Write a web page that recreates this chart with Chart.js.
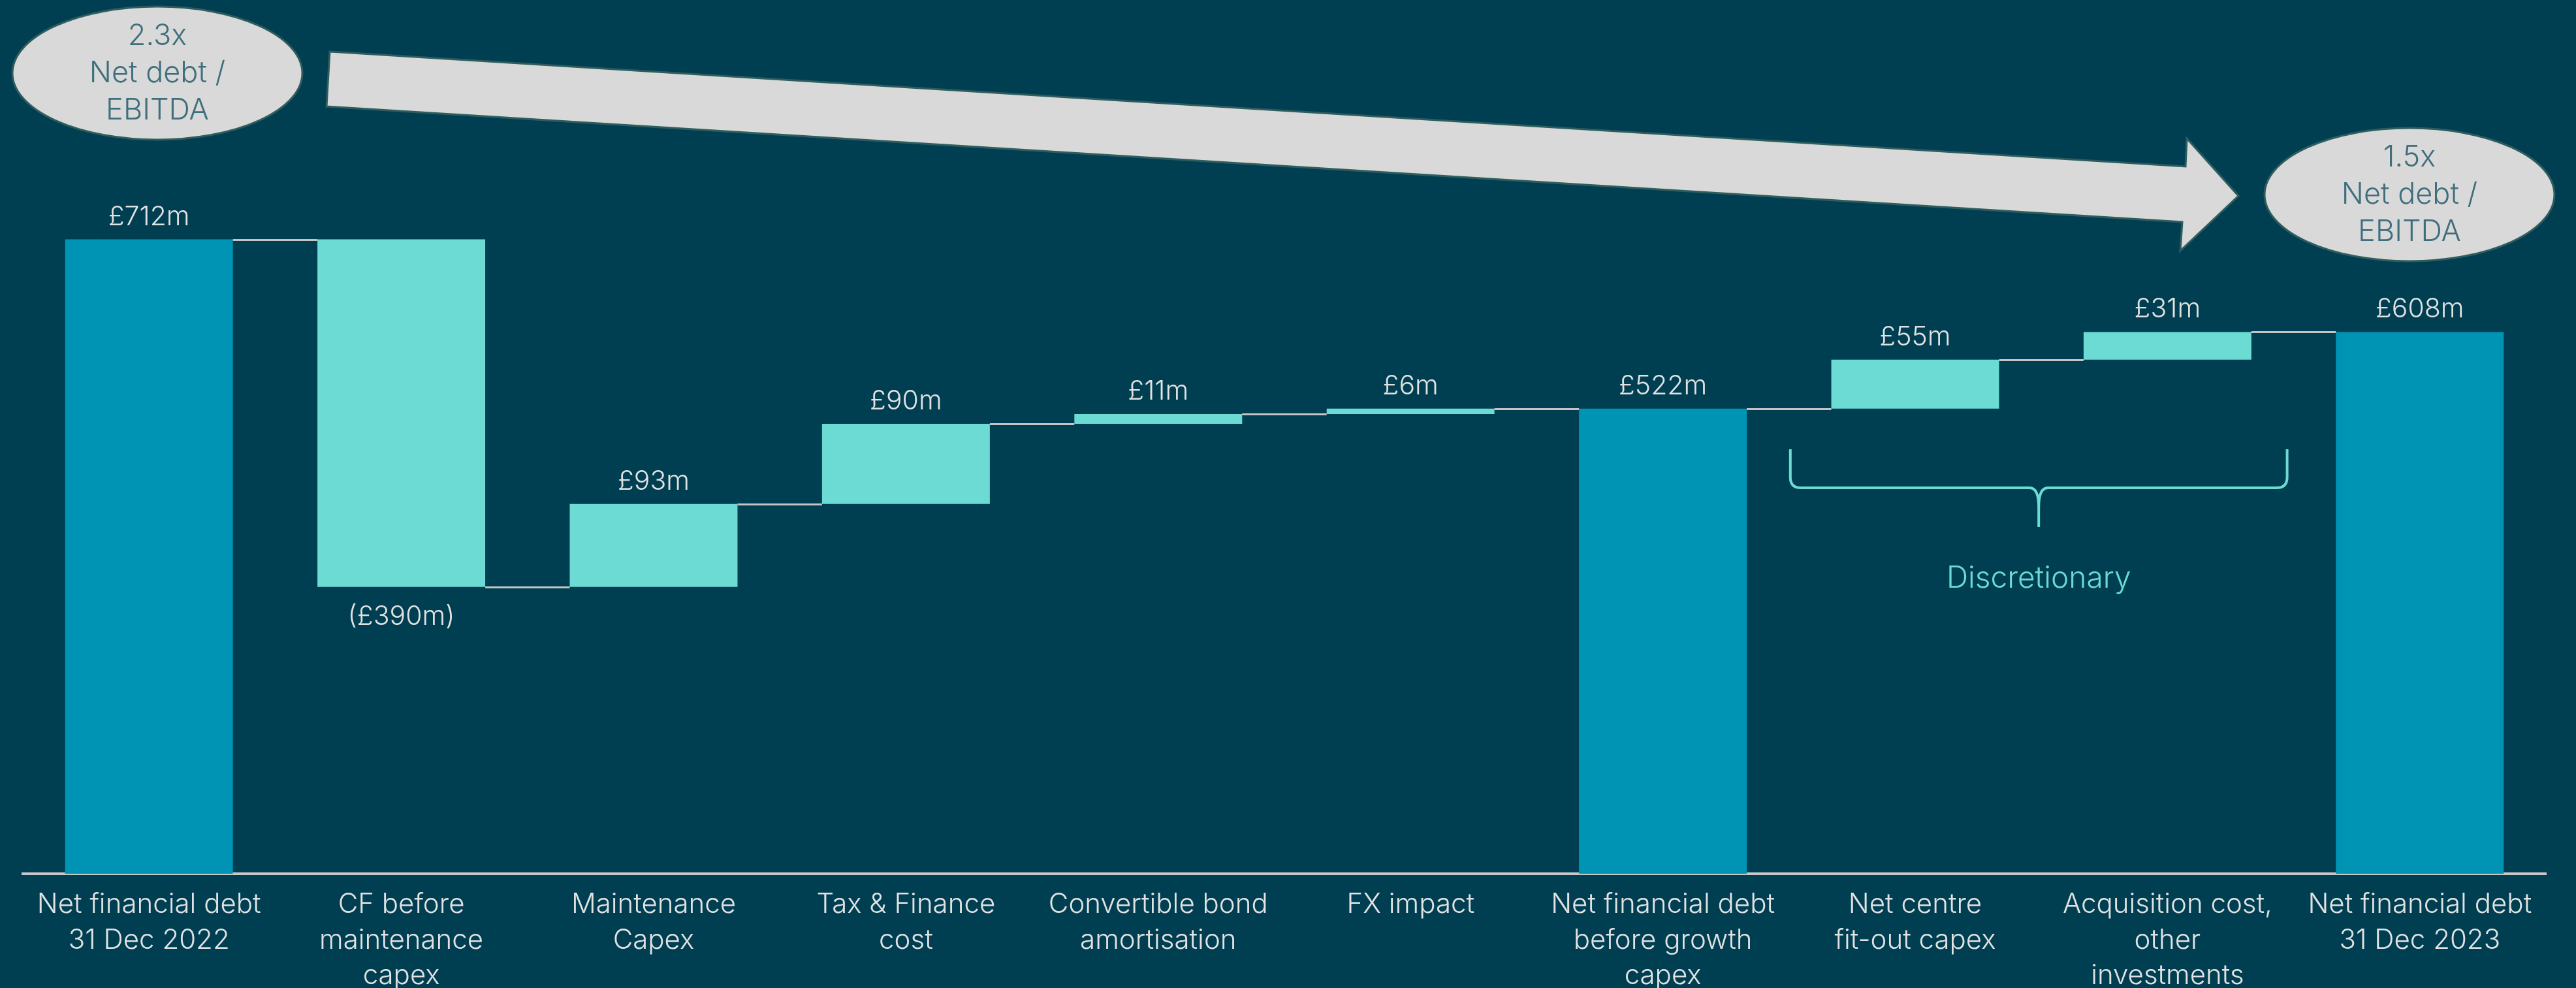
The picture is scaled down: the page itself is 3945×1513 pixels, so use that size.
<!DOCTYPE html>
<html>
<head>
<meta charset="utf-8">
<script src="https://cdn.jsdelivr.net/npm/chart.js@4.4.1/dist/chart.umd.min.js"></script>
<style>
  html, body { margin: 0; padding: 0; background: #003f52; }
  #wrap { width: 3945px; height: 1513px; position: relative; }
</style>
</head>
<body>
<div id="wrap"><canvas id="bridgeChart"></canvas></div>
<script>
// Net financial debt bridge, 2022 -> 2023 (£m)
const categories = [
    ['Net financial debt', '31 Dec 2022'],
    ['CF before', 'maintenance', 'capex'],
    ['Maintenance', 'Capex'],
    ['Tax & Finance', 'cost'],
    ['Convertible bond', 'amortisation'],
    ['FX impact'],
    ['Net financial debt', 'before growth', 'capex'],
    ['Net centre', 'fit-out capex'],
    ['Acquisition cost,', 'other', 'investments'],
    ['Net financial debt', '31 Dec 2023']
];
const movements = [712, -390, 93, 90, 11, 6, 522, 55, 31, 608];
const isTotal = [true, false, false, false, false, false, true, false, false, true];
const valueLabels = ['£712m', '(£390m)', '£93m', '£90m', '£11m', '£6m', '£522m', '£55m', '£31m', '£608m'];

const startRatio = ['2.3x', 'Net debt /', 'EBITDA'];
const endRatio = ['1.5x', 'Net debt /', 'EBITDA'];
const bracketText = 'Discretionary';

const TOTAL_COLOR = '#0094b4';
const STEP_COLOR = '#6bdbd4';
const TEXT_COLOR = '#e2e2e2';
const FONT = 'Inter, "Open Sans", sans-serif';

// Floating bars: totals start from zero, movements start from the running total
let running = 0;
const ranges = movements.map((v, i) => {
    if (isTotal[i]) {
        running = v;
        return [0, v];
    }
    const start = running;
    running += v;
    return [start, running];
});

// Value labels and the thin connectors between bars
const bridgePlugin = {
    id: 'bridge',
    afterDatasetsDraw(chart) {
        const ctx = chart.ctx;
        const bars = chart.getDatasetMeta(0).data;
        const y = chart.scales.y;

        ctx.save();
        ctx.strokeStyle = '#c4c4c4';
        ctx.lineWidth = 3;
        for (let i = 0; i < bars.length - 1; i++) {
            const level = Math.round(y.getPixelForValue(ranges[i][1])) + 0.5;
            ctx.beginPath();
            ctx.moveTo(bars[i].x + bars[i].width / 2, level);
            ctx.lineTo(bars[i + 1].x - bars[i + 1].width / 2, level);
            ctx.stroke();
        }

        ctx.fillStyle = TEXT_COLOR;
        ctx.font = '300 41px ' + FONT;
        ctx.textAlign = 'center';
        bars.forEach((bar, i) => {
            const top = Math.min(bar.y, bar.base);
            const bottom = Math.max(bar.y, bar.base);
            if (movements[i] < 0) {
                ctx.textBaseline = 'top';
                ctx.fillText(valueLabels[i], bar.x, bottom + 26);
            } else {
                ctx.textBaseline = 'alphabetic';
                ctx.fillText(valueLabels[i], bar.x, top - 22);
            }
        });
        ctx.restore();
    }
};

function drawBubble(ctx, cx, cy, lines) {
    ctx.beginPath();
    ctx.ellipse(cx, cy, 222, 102, 0, 0, Math.PI * 2);
    ctx.fillStyle = '#d9d9d9';
    ctx.fill();
    ctx.strokeStyle = '#2f5d5e';
    ctx.lineWidth = 3;
    ctx.stroke();
    ctx.fillStyle = '#3f6e7d';
    ctx.font = '300 45px ' + FONT;
    ctx.textAlign = 'center';
    ctx.textBaseline = 'middle';
    lines.forEach((t, k) => ctx.fillText(t, cx, cy - 57 + k * 57));
}

// Leverage bubbles, the big arrow and the discretionary bracket
const decorPlugin = {
    id: 'decor',
    afterDraw(chart) {
        const ctx = chart.ctx;
        const x = chart.scales.x;
        ctx.save();

        // arrow
        ctx.beginPath();
        ctx.moveTo(505, 79);
        ctx.lineTo(3347, 255);
        ctx.lineTo(3349, 212);
        ctx.lineTo(3428, 300);
        ctx.lineTo(3339, 384);
        ctx.lineTo(3342, 340);
        ctx.lineTo(500, 163);
        ctx.closePath();
        ctx.fillStyle = '#d9d9d9';
        ctx.fill();
        ctx.strokeStyle = '#2f5d5e';
        ctx.lineWidth = 3;
        ctx.stroke();

        drawBubble(ctx, 241, 112, startRatio);
        drawBubble(ctx, 3690, 298, endRatio);

        // bracket under the two discretionary items
        const step = x.getPixelForValue(1) - x.getPixelForValue(0);
        const left = x.getPixelForValue(7) - step / 2 + 2;
        const right = x.getPixelForValue(8) + step / 2 - 10;
        const mid = (left + right) / 2;
        const top = 688, hy = 747, tip = 807, r = 16;
        ctx.beginPath();
        ctx.moveTo(left, top);
        ctx.lineTo(left, hy - r);
        ctx.quadraticCurveTo(left, hy, left + r, hy);
        ctx.lineTo(mid - 14, hy);
        ctx.quadraticCurveTo(mid, hy, mid, hy + 30);
        ctx.lineTo(mid, tip);
        ctx.moveTo(mid, hy + 30);
        ctx.quadraticCurveTo(mid, hy, mid + 14, hy);
        ctx.lineTo(right - r, hy);
        ctx.quadraticCurveTo(right, hy, right, hy - r);
        ctx.lineTo(right, top);
        ctx.strokeStyle = STEP_COLOR;
        ctx.lineWidth = 4;
        ctx.stroke();

        ctx.fillStyle = STEP_COLOR;
        ctx.font = '300 46px ' + FONT;
        ctx.textAlign = 'center';
        ctx.textBaseline = 'middle';
        ctx.fillText(bracketText, mid, 886);
        ctx.restore();
    }
};

const ctx = document.getElementById('bridgeChart').getContext('2d');

new Chart(ctx, {
    type: 'bar',
    data: {
        labels: categories,
        datasets: [{
            data: ranges,
            backgroundColor: isTotal.map(t => t ? TOTAL_COLOR : STEP_COLOR),
            borderWidth: 0,
            borderSkipped: false,
            categoryPercentage: 1,
            barPercentage: 0.665
        }]
    },
    options: {
        responsive: true,
        maintainAspectRatio: false,
        animation: false,
        layout: { padding: { top: 110, left: 35, right: 46, bottom: 0 } },
        plugins: {
            legend: { display: false },
            tooltip: { enabled: false }
        },
        scales: {
            x: {
                grid: { display: false, drawTicks: false },
                border: { display: true, color: '#c8c8c8', width: 4 },
                ticks: {
                    color: TEXT_COLOR,
                    font: { family: FONT, size: 42, weight: '300', lineHeight: 1.3 },
                    padding: 20,
                    maxRotation: 0,
                    autoSkip: false
                },
                afterFit(scale) { scale.height = 175; }
            },
            y: {
                display: false,
                min: 0,
                max: 900
            }
        }
    },
    plugins: [bridgePlugin, decorPlugin]
});
</script>
</body>
</html>
